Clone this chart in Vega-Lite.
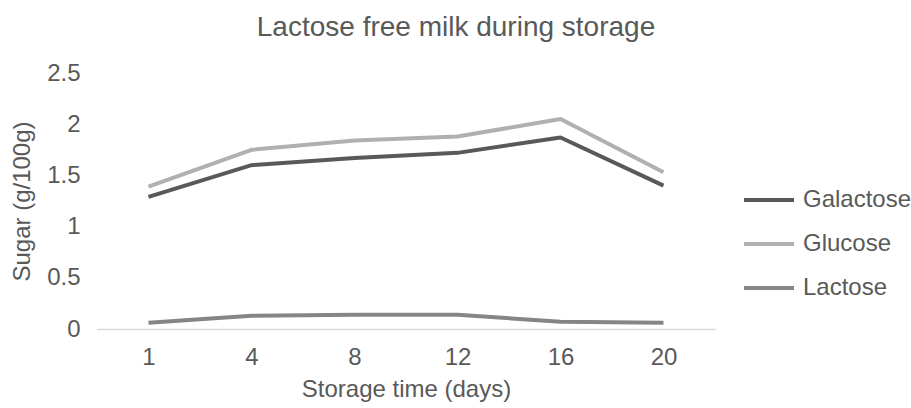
{
  "$schema": "https://vega.github.io/schema/vega-lite/v6.json",
  "autosize": {"type": "none"},
  "padding": {"left": 97, "top": 73, "right": 196, "bottom": 79},
  "width": 618,
  "height": 256,
  "background": "white",
  "title": {
    "text": "Lactose free milk during storage",
    "font": "Liberation Sans",
    "fontSize": 28,
    "fontWeight": "normal",
    "color": "#595959",
    "anchor": "middle",
    "dx": 50,
    "offset": 19
  },
  "config": {
    "view": {"stroke": null},
    "font": "Liberation Sans"
  },
  "data": {
    "values": [
      {"day": "1", "sugar": "Galactose", "value": 1.29},
      {"day": "4", "sugar": "Galactose", "value": 1.6},
      {"day": "8", "sugar": "Galactose", "value": 1.67},
      {"day": "12", "sugar": "Galactose", "value": 1.72},
      {"day": "16", "sugar": "Galactose", "value": 1.87},
      {"day": "20", "sugar": "Galactose", "value": 1.4},
      {"day": "1", "sugar": "Glucose", "value": 1.39},
      {"day": "4", "sugar": "Glucose", "value": 1.75},
      {"day": "8", "sugar": "Glucose", "value": 1.84},
      {"day": "12", "sugar": "Glucose", "value": 1.88},
      {"day": "16", "sugar": "Glucose", "value": 2.05},
      {"day": "20", "sugar": "Glucose", "value": 1.53},
      {"day": "1", "sugar": "Lactose", "value": 0.06},
      {"day": "4", "sugar": "Lactose", "value": 0.13},
      {"day": "8", "sugar": "Lactose", "value": 0.14},
      {"day": "12", "sugar": "Lactose", "value": 0.14},
      {"day": "16", "sugar": "Lactose", "value": 0.07},
      {"day": "20", "sugar": "Lactose", "value": 0.06}
    ]
  },
  "mark": {"type": "line", "strokeWidth": 4, "strokeCap": "butt", "strokeJoin": "round"},
  "encoding": {
    "x": {
      "field": "day",
      "type": "ordinal",
      "sort": ["1", "4", "8", "12", "16", "20"],
      "scale": {"type": "point", "padding": 0.5},
      "axis": {
        "title": "Storage time (days)",
        "labelAngle": 0,
        "labelFontSize": 24,
        "labelColor": "#595959",
        "labelPadding": 16,
        "titleFontSize": 24,
        "titleFontWeight": "normal",
        "titleColor": "#595959",
        "titlePadding": 8,
        "ticks": false,
        "domainColor": "#d9d9d9",
        "domainWidth": 1.5,
        "grid": false
      }
    },
    "y": {
      "field": "value",
      "type": "quantitative",
      "scale": {"domain": [0, 2.5]},
      "axis": {
        "title": "Sugar (g/100g)",
        "values": [0, 0.5, 1, 1.5, 2, 2.5],
        "format": "~g",
        "labelFontSize": 24,
        "labelColor": "#595959",
        "labelPadding": 17,
        "titleFontSize": 24,
        "titleFontWeight": "normal",
        "titleColor": "#595959",
        "titlePadding": 12,
        "ticks": false,
        "domain": false,
        "grid": false
      }
    },
    "color": {
      "field": "sugar",
      "type": "nominal",
      "scale": {"domain": ["Galactose", "Glucose", "Lactose"], "range": ["#595959", "#b0b0b0", "#858585"]},
      "legend": {
        "title": null,
        "orient": "none",
        "legendX": 645,
        "legendY": 100,
        "symbolType": "stroke",
        "symbolSize": 2500,
        "symbolStrokeWidth": 4,
        "labelFontSize": 24,
        "labelColor": "#595959",
        "labelOffset": 7,
        "rowPadding": 5
      }
    }
  }
}
